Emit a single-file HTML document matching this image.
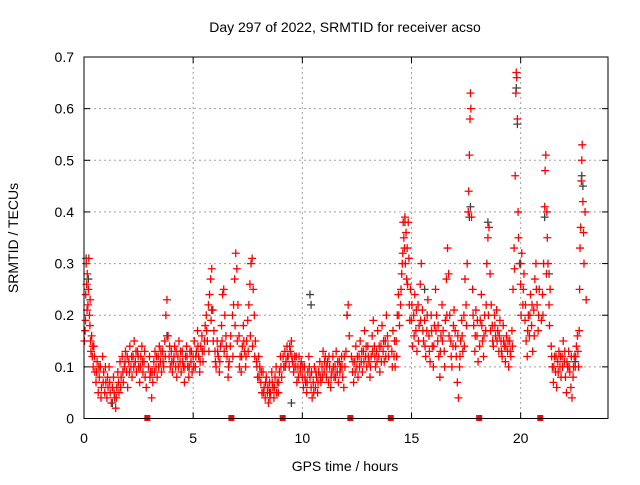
<!DOCTYPE html>
<html><head><meta charset="utf-8"><style>
body{margin:0;background:#fff}
svg text{font-family:"Liberation Sans",sans-serif;fill:#000}
</style></head><body>
<svg id="chart" width="640" height="480" viewBox="0 0 640 480" xmlns="http://www.w3.org/2000/svg">
<rect width="640" height="480" fill="#fff"/>
<text x="345" y="32" font-size="14" text-anchor="middle">Day 297 of 2022, SRMTID for receiver acso</text>
<text x="345" y="471" font-size="14" text-anchor="middle">GPS time / hours</text>
<text x="18" y="238" font-size="14" text-anchor="middle" transform="rotate(-90 18 238)">SRMTID / TECUs</text>
<g id="grid"></g>
<g id="ticks"></g>
<g id="black"></g>
<g id="red"></g>
<g id="marks"></g>
<rect x="84" y="57" width="524" height="361.5" fill="none" stroke="#000" stroke-width="1"/>
</svg>
<script>
const xTicks=[0,5,10,15,20];
const yTicks=[0,0.1,0.2,0.3,0.4,0.5,0.6,0.7];
const yTickLabels=["0","0.1","0.2","0.3","0.4","0.5","0.6","0.7"];
const gapTimes=[2.9,6.75,9.1,12.2,14.05,18.1,20.9];
const redPts=[
[0.02,0.15],[0.05,0.17],[0.08,0.24],[0.1,0.3],[0.12,0.26],[0.15,0.28],[0.18,0.22],[0.2,0.25],[0.22,0.31],[0.25,0.2],[0.27,0.18],[0.3,0.15],[0.32,0.13],[0.35,0.16],[0.38,0.12],[0.42,0.1],[0.45,0.14],[0.5,0.09],[0.55,0.07],[0.6,0.11],[0.65,0.05],[0.7,0.08],[0.75,0.1],[0.8,0.06],[0.85,0.12],[0.9,0.09],[0.95,0.05],[1.0,0.07],[1.05,0.04],[1.1,0.06],[1.15,0.1],[1.2,0.05],[1.25,0.03],[1.3,0.06],[1.35,0.08],[1.4,0.04],[1.45,0.02],[1.5,0.06],[1.55,0.09],[1.6,0.05],[1.65,0.11],[1.7,0.08],[1.75,0.12],[1.8,0.07],[1.85,0.1],[1.9,0.13],[1.95,0.09],[2.0,0.06],[2.05,0.11],[2.1,0.14],[2.15,0.1],[2.2,0.08],[2.25,0.12],[2.3,0.15],[2.35,0.11],[2.4,0.09],[2.45,0.13],[2.5,0.1],[2.55,0.07],[2.6,0.12],[2.65,0.14],[2.7,0.09],[2.75,0.11],[2.8,0.08],[2.85,0.06],[2.95,0.1],[3.0,0.12],[3.05,0.09],[3.1,0.04],[3.15,0.07],[3.2,0.11],[3.25,0.13],[3.3,0.1],[3.35,0.08],[3.4,0.12],[3.45,0.14],[3.5,0.11],[3.55,0.09],[3.6,0.13],[3.65,0.1],[3.7,0.15],[3.75,0.2],[3.8,0.23],[3.85,0.16],[3.9,0.12],[3.95,0.1],[4.0,0.13],[4.05,0.09],[4.1,0.11],[4.15,0.14],[4.2,0.1],[4.25,0.08],[4.3,0.12],[4.35,0.15],[4.4,0.11],[4.45,0.09],[4.5,0.13],[4.55,0.1],[4.6,0.07],[4.65,0.12],[4.7,0.14],[4.75,0.1],[4.8,0.08],[4.85,0.13],[4.9,0.11],[4.95,0.09],[5.0,0.12],[5.05,0.15],[5.1,0.1],[5.15,0.13],[5.2,0.17],[5.25,0.12],[5.3,0.09],[5.35,0.14],[5.4,0.16],[5.45,0.11],[5.5,0.13],[5.55,0.18],[5.6,0.2],[5.65,0.15],[5.7,0.22],[5.75,0.24],[5.8,0.27],[5.85,0.29],[5.9,0.21],[5.95,0.17],[6.0,0.13],[6.05,0.1],[6.1,0.15],[6.15,0.12],[6.2,0.09],[6.25,0.14],[6.3,0.18],[6.35,0.24],[6.4,0.25],[6.45,0.2],[6.5,0.16],[6.55,0.12],[6.6,0.08],[6.65,0.11],[6.7,0.14],[6.8,0.2],[6.85,0.22],[6.9,0.27],[6.95,0.32],[7.0,0.29],[7.05,0.22],[7.1,0.16],[7.15,0.12],[7.2,0.09],[7.25,0.14],[7.3,0.18],[7.35,0.13],[7.4,0.1],[7.45,0.15],[7.5,0.19],[7.55,0.22],[7.6,0.26],[7.65,0.3],[7.7,0.31],[7.75,0.25],[7.8,0.2],[7.85,0.15],[7.9,0.11],[7.95,0.08],[8.0,0.12],[8.05,0.1],[8.1,0.07],[8.15,0.05],[8.2,0.09],[8.25,0.06],[8.3,0.04],[8.35,0.08],[8.4,0.05],[8.45,0.03],[8.5,0.07],[8.55,0.05],[8.6,0.09],[8.65,0.06],[8.7,0.04],[8.75,0.08],[8.8,0.1],[8.85,0.07],[8.9,0.05],[8.95,0.09],[9.0,0.12],[9.05,0.08],[9.15,0.1],[9.2,0.13],[9.25,0.11],[9.3,0.14],[9.35,0.12],[9.4,0.1],[9.45,0.13],[9.5,0.15],[9.55,0.11],[9.6,0.09],[9.65,0.12],[9.7,0.1],[9.75,0.07],[9.8,0.1],[9.85,0.12],[9.9,0.09],[9.95,0.11],[10.0,0.08],[10.05,0.06],[10.1,0.1],[10.15,0.07],[10.2,0.05],[10.25,0.09],[10.3,0.12],[10.35,0.08],[10.4,0.06],[10.45,0.04],[10.5,0.07],[10.55,0.1],[10.6,0.06],[10.65,0.08],[10.7,0.05],[10.75,0.09],[10.8,0.11],[10.85,0.07],[10.9,0.1],[10.95,0.13],[11.0,0.09],[11.05,0.12],[11.1,0.08],[11.15,0.11],[11.2,0.07],[11.25,0.1],[11.3,0.06],[11.35,0.09],[11.4,0.12],[11.45,0.08],[11.5,0.1],[11.55,0.13],[11.6,0.09],[11.65,0.07],[11.7,0.11],[11.75,0.1],[11.8,0.12],[11.85,0.08],[11.9,0.06],[11.95,0.1],[12.0,0.13],[12.05,0.2],[12.1,0.22],[12.15,0.16],[12.25,0.12],[12.3,0.09],[12.35,0.07],[12.4,0.11],[12.45,0.14],[12.5,0.1],[12.55,0.08],[12.6,0.12],[12.65,0.15],[12.7,0.11],[12.75,0.09],[12.8,0.13],[12.85,0.17],[12.9,0.12],[12.95,0.1],[13.0,0.14],[13.05,0.11],[13.1,0.08],[13.15,0.12],[13.2,0.16],[13.25,0.19],[13.3,0.14],[13.35,0.1],[13.4,0.13],[13.45,0.17],[13.5,0.12],[13.55,0.09],[13.6,0.14],[13.65,0.18],[13.7,0.13],[13.75,0.11],[13.8,0.15],[13.85,0.2],[13.9,0.16],[13.95,0.12],[14.1,0.13],[14.15,0.17],[14.2,0.12],[14.25,0.1],[14.3,0.15],[14.35,0.2],[14.4,0.24],[14.45,0.18],[14.5,0.22],[14.55,0.28],[14.6,0.32],[14.62,0.38],[14.65,0.35],[14.7,0.39],[14.72,0.3],[14.75,0.36],[14.8,0.33],[14.82,0.26],[14.85,0.38],[14.88,0.31],[14.9,0.22],[14.95,0.25],[15.0,0.19],[15.05,0.14],[15.1,0.2],[15.15,0.24],[15.2,0.17],[15.25,0.13],[15.3,0.22],[15.35,0.18],[15.4,0.26],[15.45,0.3],[15.5,0.21],[15.55,0.15],[15.6,0.19],[15.65,0.12],[15.7,0.17],[15.75,0.23],[15.8,0.16],[15.85,0.11],[15.9,0.2],[15.95,0.14],[16.0,0.1],[16.05,0.18],[16.1,0.25],[16.15,0.2],[16.2,0.15],[16.25,0.12],[16.3,0.08],[16.35,0.16],[16.4,0.22],[16.45,0.17],[16.5,0.13],[16.55,0.19],[16.6,0.27],[16.65,0.33],[16.7,0.28],[16.75,0.2],[16.8,0.15],[16.85,0.1],[16.9,0.14],[16.95,0.21],[17.0,0.17],[17.05,0.12],[17.1,0.07],[17.15,0.04],[17.2,0.1],[17.25,0.15],[17.3,0.19],[17.35,0.13],[17.4,0.2],[17.45,0.27],[17.5,0.22],[17.55,0.3],[17.6,0.4],[17.62,0.44],[17.65,0.51],[17.68,0.58],[17.7,0.63],[17.72,0.6],[17.75,0.39],[17.8,0.25],[17.85,0.18],[17.9,0.13],[17.95,0.21],[18.0,0.16],[18.05,0.11],[18.15,0.19],[18.2,0.24],[18.25,0.15],[18.3,0.12],[18.35,0.2],[18.4,0.17],[18.45,0.3],[18.5,0.35],[18.55,0.37],[18.6,0.28],[18.65,0.22],[18.7,0.18],[18.75,0.14],[18.8,0.2],[18.85,0.16],[18.9,0.21],[18.95,0.17],[19.0,0.13],[19.05,0.19],[19.1,0.15],[19.15,0.12],[19.2,0.18],[19.25,0.14],[19.3,0.11],[19.35,0.16],[19.4,0.13],[19.45,0.1],[19.5,0.15],[19.55,0.12],[19.6,0.17],[19.65,0.25],[19.7,0.33],[19.72,0.29],[19.75,0.47],[19.78,0.63],[19.8,0.67],[19.82,0.66],[19.85,0.58],[19.88,0.4],[19.9,0.35],[19.95,0.3],[20.0,0.26],[20.05,0.32],[20.1,0.22],[20.15,0.28],[20.2,0.19],[20.25,0.15],[20.3,0.12],[20.35,0.2],[20.4,0.16],[20.45,0.24],[20.5,0.18],[20.55,0.13],[20.6,0.21],[20.65,0.27],[20.7,0.3],[20.75,0.22],[20.8,0.17],[20.85,0.25],[20.95,0.19],[21.0,0.24],[21.05,0.3],[21.1,0.41],[21.12,0.48],[21.15,0.51],[21.2,0.4],[21.22,0.35],[21.25,0.3],[21.3,0.22],[21.35,0.25],[21.4,0.14],[21.45,0.1],[21.5,0.07],[21.55,0.12],[21.6,0.09],[21.65,0.06],[21.7,0.11],[21.75,0.13],[21.8,0.1],[21.85,0.08],[21.9,0.12],[21.95,0.15],[22.0,0.11],[22.05,0.08],[22.1,0.05],[22.15,0.1],[22.2,0.13],[22.25,0.09],[22.3,0.06],[22.35,0.04],[22.4,0.08],[22.45,0.12],[22.5,0.1],[22.55,0.14],[22.6,0.16],[22.65,0.1],[22.7,0.25],[22.72,0.33],[22.75,0.37],[22.78,0.46],[22.8,0.5],[22.82,0.53],[22.85,0.42],[22.88,0.36],[22.9,0.3],[22.95,0.4],[23.0,0.23]
];
const redPtsExtra=[
[0.07,0.19],[0.14,0.21],[0.28,0.23],[0.4,0.14],[0.48,0.12],[0.58,0.09],[0.68,0.1],[0.78,0.04],[0.88,0.07],[0.98,0.1],[1.08,0.08],[1.18,0.07],[1.38,0.05],[1.48,0.04],[1.58,0.07],[1.68,0.06],[1.78,0.09],[1.88,0.11],[1.98,0.12],[2.08,0.09],[2.18,0.12],[2.28,0.1],[2.38,0.13],[2.48,0.12],[2.58,0.1],[2.68,0.11],[2.78,0.13],[3.02,0.08],[3.12,0.09],[3.22,0.09],[3.32,0.12],[3.42,0.1],[3.52,0.13],[3.62,0.11],[3.72,0.12],[3.92,0.14],[4.02,0.11],[4.12,0.12],[4.22,0.13],[4.32,0.1],[4.42,0.13],[4.52,0.11],[4.62,0.1],[4.72,0.12],[4.82,0.1],[4.92,0.13],[5.02,0.1],[5.12,0.12],[5.22,0.14],[5.32,0.11],[5.42,0.13],[5.52,0.15],[5.62,0.17],[5.72,0.13],[5.82,0.19],[5.92,0.15],[6.02,0.11],[6.12,0.13],[6.22,0.11],[6.32,0.15],[6.42,0.13],[6.52,0.14],[6.62,0.1],[6.72,0.16],[6.82,0.12],[6.92,0.18],[7.02,0.15],[7.12,0.1],[7.22,0.12],[7.32,0.15],[7.42,0.12],[7.52,0.13],[7.62,0.16],[7.72,0.14],[7.82,0.12],[7.92,0.1],[8.02,0.08],[8.12,0.09],[8.22,0.05],[8.32,0.07],[8.42,0.06],[8.52,0.04],[8.62,0.07],[8.72,0.06],[8.82,0.05],[8.92,0.07],[9.02,0.1],[9.12,0.12],[9.22,0.1],[9.32,0.12],[9.42,0.14],[9.52,0.12],[9.62,0.1],[9.72,0.12],[9.82,0.08],[9.92,0.1],[10.02,0.1],[10.12,0.08],[10.22,0.07],[10.32,0.1],[10.42,0.09],[10.52,0.05],[10.62,0.09],[10.72,0.07],[10.82,0.08],[10.92,0.08],[11.02,0.11],[11.12,0.1],[11.22,0.12],[11.32,0.08],[11.42,0.1],[11.52,0.08],[11.62,0.11],[11.72,0.09],[11.82,0.1],[11.92,0.12],[12.32,0.11],[12.42,0.09],[12.52,0.12],[12.62,0.1],[12.72,0.13],[12.82,0.11],[12.92,0.14],[13.02,0.12],[13.12,0.1],[13.22,0.13],[13.32,0.12],[13.42,0.11],[13.52,0.14],[13.62,0.11],[13.72,0.15],[13.82,0.12],[13.92,0.14],[14.12,0.1],[14.22,0.15],[14.32,0.12],[14.42,0.2],[14.52,0.25],[14.58,0.3],[14.68,0.33],[14.78,0.27],[14.92,0.19],[15.02,0.22],[15.12,0.16],[15.22,0.21],[15.32,0.15],[15.42,0.19],[15.52,0.17],[15.62,0.14],[15.72,0.2],[15.82,0.13],[15.92,0.17],[16.02,0.14],[16.12,0.17],[16.22,0.18],[16.32,0.13],[16.42,0.15],[16.52,0.1],[16.62,0.2],[16.72,0.16],[16.82,0.12],[16.92,0.18],[17.02,0.14],[17.12,0.16],[17.22,0.12],[17.32,0.16],[17.42,0.14],[17.52,0.18],[17.82,0.2],[17.92,0.16],[18.02,0.19],[18.12,0.14],[18.22,0.18],[18.32,0.16],[18.42,0.22],[18.52,0.2],[18.62,0.17],[18.72,0.15],[18.82,0.18],[18.92,0.15],[19.02,0.16],[19.12,0.13],[19.22,0.15],[19.32,0.14],[19.42,0.15],[19.52,0.13],[19.62,0.14],[20.02,0.2],[20.12,0.25],[20.22,0.22],[20.32,0.17],[20.42,0.2],[20.52,0.22],[20.62,0.16],[20.72,0.25],[20.82,0.2],[21.02,0.2],[21.18,0.28],[21.32,0.18],[21.42,0.12],[21.52,0.1],[21.62,0.12],[21.72,0.09],[21.82,0.12],[21.92,0.1],[22.02,0.13],[22.12,0.11],[22.22,0.1],[22.32,0.12],[22.42,0.1],[22.52,0.12],[22.62,0.13],[22.68,0.17]
];
const blackPts=[
[0.1,0.31],[0.2,0.27],[1.3,0.03],[3.8,0.16],[5.85,0.21],[8.5,0.05],[9.5,0.03],[10.35,0.24],[10.4,0.22],[12.05,0.2],[14.7,0.38],[15.6,0.25],[17.65,0.39],[17.7,0.41],[18.5,0.38],[19.8,0.64],[19.85,0.57],[20.0,0.3],[21.1,0.39],[21.3,0.28],[22.5,0.11],[22.8,0.47],[22.85,0.45]
];
const X0=84,XW=524,XMAX=24,Y0=418.5,YH=361.5,YMAX=0.7;
function sx(t){return X0+t/XMAX*XW}
function sy(v){return Y0-v/YMAX*YH}
const NS="http://www.w3.org/2000/svg";
function mk(tag,attrs,parent){const e=document.createElementNS(NS,tag);for(const k in attrs)e.setAttribute(k,attrs[k]);parent.appendChild(e);return e}
const grid=document.getElementById('grid'),ticks=document.getElementById('ticks');
xTicks.forEach(t=>{const x=sx(t);
 if(t>0){const l=mk('line',{x1:x,x2:x,y1:57,y2:Y0,stroke:'#a0a0a0','stroke-dasharray':'2,3','stroke-width':1},grid);
 
 }
 mk('line',{x1:x,x2:x,y1:Y0,y2:Y0-6,stroke:'#000'},ticks);
 mk('line',{x1:x,x2:x,y1:57,y2:63,stroke:'#000'},ticks);
 const tx=mk('text',{x:x,y:443,'font-size':14,'text-anchor':'middle'},ticks);tx.textContent=t;
 
 
});
yTicks.forEach((v,i)=>{const y=sy(v);
 if(v>0&&v<YMAX){const l=mk('line',{x1:X0,x2:X0+XW,y1:y,y2:y,stroke:'#a0a0a0','stroke-dasharray':'2,3','stroke-width':1},grid);
 
 }
 mk('line',{x1:X0,x2:X0+6,y1:y,y2:y,stroke:'#000'},ticks);
 mk('line',{x1:X0+XW,x2:X0+XW-6,y1:y,y2:y,stroke:'#000'},ticks);
 const tx=mk('text',{x:74,y:y+5,'font-size':14,'text-anchor':'end'},ticks);tx.textContent=yTickLabels[i];
 
 
});
function plus(g,t,v,col){const x=sx(t),y=sy(v);
 const p=mk('path',{d:`M${x-4},${y}h8M${x},${y-4}v8`,stroke:col,'stroke-width':1.3,fill:'none'},g);
 
 }
const bg=document.getElementById('black'),rg=document.getElementById('red');
blackPts.forEach(p=>plus(bg,p[0],p[1],'#404040'));
redPts.forEach(p=>plus(rg,p[0],p[1],'#ff0000'));
redPtsExtra.forEach(p=>plus(rg,p[0],p[1],'#ff0000'));
const mg=document.getElementById('marks');
gapTimes.forEach(t=>{const r=mk('rect',{x:sx(t)-3,y:Y0-3.5,width:6,height:6,fill:'#ff0000'},mg);
 
 });
</script>
</body></html>
